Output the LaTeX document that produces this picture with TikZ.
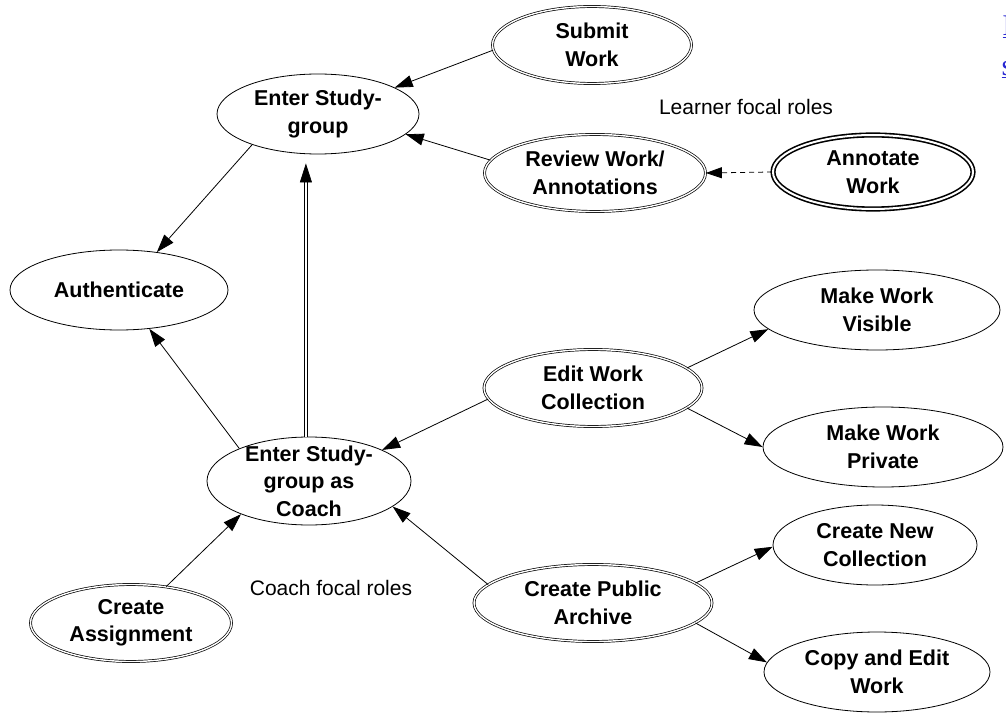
\documentclass[tikz,border=0pt]{standalone}
\usepackage{fontspec}
\setmainfont{Liberation Sans}
\newfontfamily\linkfont{Liberation Serif}
\usetikzlibrary{shapes.geometric,arrows.meta}
\definecolor{linkblue}{RGB}{40,40,210}
\begin{document}
\begin{tikzpicture}[x=1pt,y=-1pt,
  uc/.style={ellipse, draw, line width=0.8pt, inner sep=-8pt, align=center,
    font=\fontsize{21.5}{27.5}\selectfont\bfseries},
  ucd/.style={uc, double, double distance=1.4pt, line width=0.7pt},
  uct/.style={uc, double, double distance=2pt, line width=1.6pt},
  arr/.style={line width=0.8pt, -{Triangle[length=18pt,width=12pt]}},
  dsh/.style={line width=0.8pt, dash pattern=on 5pt off 4pt, -{Triangle[length=16pt,width=11pt]}},
  lbl/.style={font=\fontsize{21}{25}\selectfont, anchor=base, inner sep=0pt},
  linktext/.style={anchor=base west, inner sep=0pt, text=linkblue, font=\linkfont\fontsize{30}{30}\selectfont}
]
\useasboundingbox (0,0) rectangle (1006,714);

\node[uc,  minimum width=202pt, minimum height=80pt] (esg) at (318,114) {Enter Study-\\group};
\node[uc,  minimum width=218pt, minimum height=80pt] (auth) at (119,290) {Authenticate};
\node[ucd, minimum width=199pt, minimum height=77pt] (submit) at (592,45) {Submit\\Work};
\node[ucd, minimum width=221pt, minimum height=77pt] (review) at (595,173) {Review Work/\\Annotations};
\node[uct, minimum width=200pt, minimum height=74pt] (annot) at (873,172) {Annotate\\Work};
\node[uc,  minimum width=246pt, minimum height=80pt] (visible) at (877,310) {Make Work\\Visible};
\node[ucd, minimum width=218pt, minimum height=77pt] (ewc) at (593,388) {Edit Work\\Collection};
\node[uc,  minimum width=240pt, minimum height=80pt] (private) at (883,447) {Make Work\\Private};
\node[uc,  minimum width=204pt, minimum height=80pt] (newcoll) at (875,545) {Create New\\Collection};
\node[ucd, minimum width=238pt, minimum height=77pt] (cpa) at (593,603) {Create Public\\Archive};
\node[uc,  minimum width=226pt, minimum height=80pt] (copy) at (877,672) {Copy and Edit\\Work};
\node[uc,  minimum width=204pt, minimum height=88pt] (coach) at (309,481) {Enter Study-\\group as\\Coach};
\node[ucd, minimum width=201pt, minimum height=77pt] (assign) at (131,623) {Create\\Assignment};

\node[lbl] (learner) at (746,115) {Learner focal roles};
\node[lbl] (coachlbl) at (331,595) {Coach focal roles};

\begin{scope}
\clip (990,0) rectangle (1006,100);
\node[linktext] (link1) at (1002.5,36) {\underline{E}};
\node[linktext] (link2) at (1001.5,76) {\underline{s}};
\end{scope}

\draw[arr] (submit.183) -- (esg.19);
\draw[arr] (review.173) -- (esg.347);
\draw[dsh] (annot.180) -- (review.0);
\draw[arr] (esg.205) -- (auth.45);
\draw[arr] (coach.155) -- (auth.308);
\draw[double, double distance=2pt, line width=0.7pt, -{Triangle[length=19pt,width=12pt]}, shorten >=9pt]
  (coach.94) -- (coach.94 |- esg.south);
\draw[arr] (assign.46) -- (coach.206);
\draw[arr] (ewc.186) -- (coach.23);
\draw[arr] (cpa.170) -- (coach.343);
\draw[arr] (ewc.12) -- (visible.190);
\draw[arr] (ewc.348) -- (private.180);
\draw[arr] (cpa.11) -- (newcoll.181);
\draw[arr] (cpa.349) -- (copy.175);
\end{tikzpicture}
\end{document}
